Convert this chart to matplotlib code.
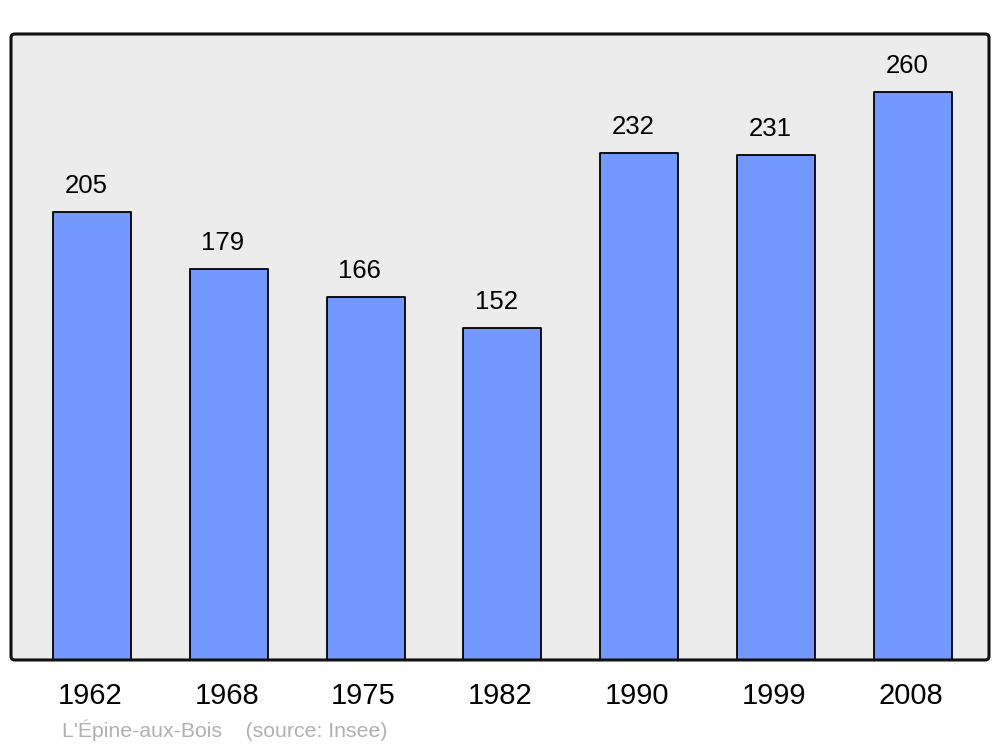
import matplotlib
matplotlib.use("Agg")
import matplotlib.pyplot as plt
from matplotlib.patches import FancyBboxPatch
from matplotlib.transforms import ScaledTranslation

years = ["1962", "1968", "1975", "1982", "1990", "1999", "2008"]
population = [205, 179, 166, 152, 232, 231, 260]

plt.rcParams['font.family'] = ['Liberation Sans', 'DejaVu Sans']

fig = plt.figure(figsize=(10, 7.47), dpi=100)
ax = fig.add_axes([0.011, 0.1165, 0.978, 0.838])
ax.set_facecolor('none')

# fond arrondi du cadre
bg = FancyBboxPatch((0, 0), 1, 1, boxstyle="round,pad=0,rounding_size=0.004",
                    mutation_aspect=978 / 626, transform=ax.transAxes,
                    facecolor='#ececec', edgecolor='none', zorder=0, clip_on=False)
ax.add_patch(bg)
frame = FancyBboxPatch((0, 0), 1, 1, boxstyle="round,pad=0,rounding_size=0.004",
                       mutation_aspect=978 / 626, transform=ax.transAxes,
                       facecolor='none', edgecolor='#111111', linewidth=2.2,
                       zorder=5, clip_on=False)
ax.add_patch(frame)

x = list(range(len(years)))
bars = ax.bar(x, population, width=0.57, color='#7399ff', edgecolor='black',
              linewidth=1.3, zorder=2)
for b in bars:
    b.set_joinstyle('round')

for xi, v in zip(x, population):
    ax.annotate(str(v), (xi, v), xytext=(-6, 19), textcoords='offset pixels',
                ha='center', va='baseline', fontsize=18.5, color='black')

ax.set_xlim(-0.592, 6.557)
ax.set_ylim(0, 286.5)
ax.set_xticks(x)
ax.set_xticklabels(years, fontsize=21)
ax.tick_params(axis='x', length=0, pad=16)
shift = ScaledTranslation(-2 / 100, 0, fig.dpi_scale_trans)
for lab in ax.get_xticklabels():
    lab.set_transform(lab.get_transform() + shift)
ax.set_yticks([])
for s in ax.spines.values():
    s.set_visible(False)

fig.text(0.062, 0.0228, "L'Épine-aux-Bois    (source: Insee)", fontsize=15.3,
         color='#b0b0b0', va='center', ha='left')

fig.savefig("out.png", dpi=100)
